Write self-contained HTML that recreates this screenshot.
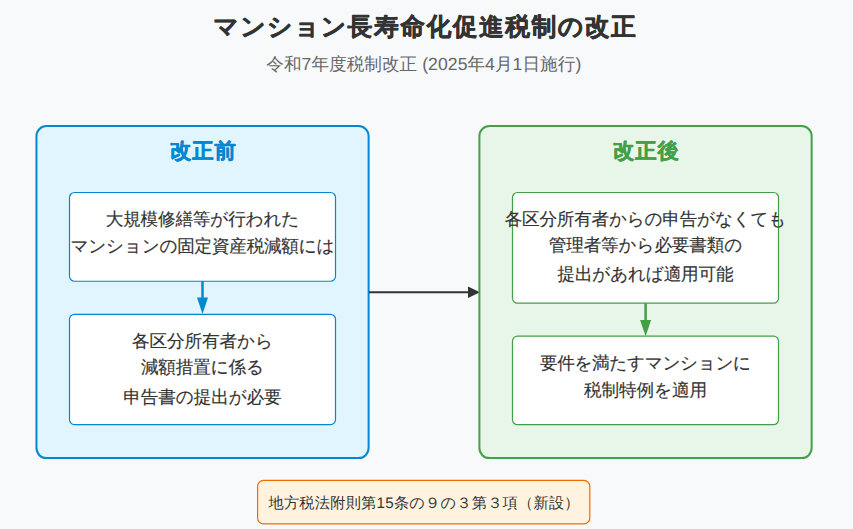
<!DOCTYPE html>
<html lang="ja"><head><meta charset="utf-8">
<style>
html,body{margin:0;padding:0;background:#f8f9fa;overflow:hidden}
svg{display:block}
text{font-family:"Liberation Sans",sans-serif;text-rendering:geometricPrecision}
.t{font-size:17.6px;fill:#333;stroke:#333;stroke-width:0.15px;stroke-linejoin:round}
</style></head><body>
<svg width="853" height="529" viewBox="0 0 853 529">
<rect width="853" height="529" fill="#f8f9fa"/>
<text x="424.5" y="35.3" text-anchor="middle" font-size="24.8" font-weight="bold" fill="#333" stroke="#333" stroke-width="0.5" stroke-linejoin="round" textLength="422.4" lengthAdjust="spacing">マンション長寿命化促進税制の改正</text>
<text x="423.75" y="70.2" text-anchor="middle" font-size="17.6" fill="#666" textLength="315" lengthAdjust="spacing">令和7年度税制改正 (2025年4月1日施行)</text>

<rect x="36.45" y="126" width="332.15" height="332.1" rx="10" fill="#e1f5fe" stroke="#0288d1" stroke-width="2"/>
<text x="202.8" y="158" text-anchor="middle" font-size="21.3" font-weight="bold" fill="#0288d1" stroke="#0288d1" stroke-width="0.5" stroke-linejoin="round" textLength="65.8" lengthAdjust="spacing">改正前</text>
<rect x="69.5" y="192.5" width="266" height="88.75" rx="5" fill="#fff" stroke="#0288d1" stroke-width="1.2"/>
<text class="t" text-anchor="middle"><tspan x="202.5" y="224.7" textLength="193.6">大規模修繕等が行われた</tspan><tspan x="202.5" y="252" textLength="264">マンションの固定資産税減額には</tspan></text>
<line x1="202.5" y1="281" x2="202.5" y2="298" stroke="#0288d1" stroke-width="2.5"/>
<path d="M197 297.5 L208 297.5 L202.5 314 Z" fill="#0288d1"/>
<rect x="69.5" y="314.3" width="266" height="110.3" rx="5" fill="#fff" stroke="#0288d1" stroke-width="1.2"/>
<text class="t" text-anchor="middle"><tspan x="202.5" y="347" textLength="140.8">各区分所有者から</tspan><tspan x="202.5" y="373" textLength="123.2">減額措置に係る</tspan><tspan x="202.5" y="402.5" textLength="158.4">申告書の提出が必要</tspan></text>

<line x1="369" y1="292.3" x2="469" y2="292.3" stroke="#333" stroke-width="2"/>
<path d="M468 286.6 L480 292.3 L468 298 Z" fill="#333"/>

<rect x="479.4" y="126.1" width="332.25" height="332" rx="10" fill="#e8f5e9" stroke="#43a047" stroke-width="2"/>
<text x="645.8" y="158" text-anchor="middle" font-size="21.3" font-weight="bold" fill="#43a047" stroke="#43a047" stroke-width="0.5" stroke-linejoin="round" textLength="65.8" lengthAdjust="spacing">改正後</text>
<rect x="512.5" y="192.5" width="266" height="110.7" rx="5" fill="#fff" stroke="#43a047" stroke-width="1.2"/>
<text class="t" text-anchor="middle"><tspan x="645.5" y="224.9" textLength="281.6">各区分所有者からの申告がなくても</tspan><tspan x="645.5" y="251.3" textLength="193.6">管理者等から必要書類の</tspan><tspan x="645.5" y="280.4" textLength="176">提出があれば適用可能</tspan></text>
<line x1="645.6" y1="303" x2="645.6" y2="321" stroke="#43a047" stroke-width="2.5"/>
<path d="M640.1 320 L651.1 320 L645.6 336.2 Z" fill="#43a047"/>
<rect x="512.5" y="336.2" width="266" height="88.5" rx="5" fill="#fff" stroke="#43a047" stroke-width="1.2"/>
<text class="t" text-anchor="middle"><tspan x="645.5" y="368.8" textLength="211.2">要件を満たすマンションに</tspan><tspan x="645.5" y="396.1" textLength="123.2">税制特例を適用</tspan></text>

<rect x="257.6" y="480.3" width="332.2" height="43.6" rx="6" fill="#fff3e0" stroke="#ef6c00" stroke-width="1.2"/>
<text x="424" y="508" text-anchor="middle" font-size="15.2" fill="#333" textLength="311" lengthAdjust="spacing">地方税法附則第15条の９の３第３項（新設）</text>
</svg>
</body></html>
